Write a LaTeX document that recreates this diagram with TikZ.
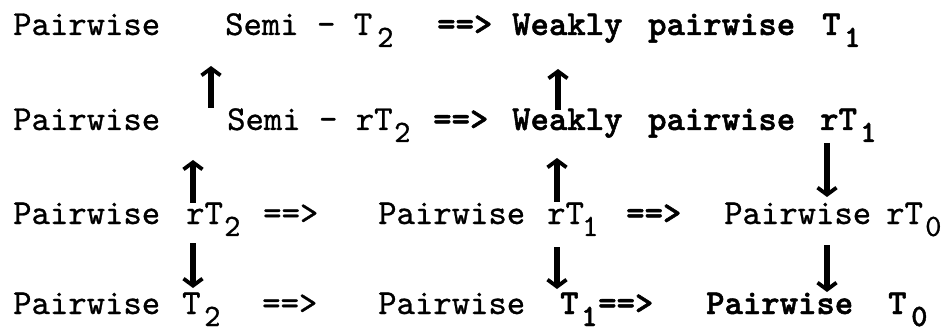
\documentclass[tikz,border=0pt]{standalone}
\usepackage{fontspec}
\usetikzlibrary{arrows.meta}
\newfontfamily\twr{lmmono10-regular.otf}[FakeBold=0.8]
\newfontfamily\twb{lmmonolt10-bold.otf}[FakeBold=1.4]
\begin{document}
\begin{tikzpicture}[x=1pt,y=-1pt,
  txt/.style={anchor=base west, inner sep=0pt, font=\fontsize{35}{40}\selectfont\twr},
  btxt/.style={anchor=base west, inner sep=0pt, font=\fontsize{35}{40}\selectfont\twb},
  sub/.style={anchor=base west, inner sep=0pt, font=\fontsize{31}{31}\selectfont\twr},
  bsub/.style={anchor=base west, inner sep=0pt, font=\fontsize{31}{31}\selectfont\twb},
  varrow/.style={line width=5.5pt, -{Straight Barb[length=7pt,width=19pt,line width=3.8pt]}}]
\useasboundingbox (0,0) rectangle (951,334);
% Row 1
\node[txt] (r1a) at (13,35) {Pairwise};
\node[txt] (r1b) at (225,35) {Semi - T};
\node[sub] (r1bs) at (377,47) {2};
\node[btxt] (r1c) at (437,35) {==>};
\node[btxt] (r1d) at (512,35) {Weakly};
\node[btxt] (r1e) at (648,35) {pairwise};
\node[btxt] (r1f) at (822,35) {T};
\node[bsub] (r1fs) at (844,47) {1};
% Row 2
\node[txt] (r2a) at (13,130) {Pairwise};
\node[txt] (r2b) at (227,130) {Semi - rT};
\node[sub] (r2bs) at (394,142) {2};
\node[btxt] (r2c) at (433,130) {==>};
\node[btxt] (r2d) at (512,130) {Weakly};
\node[btxt] (r2e) at (648,130) {pairwise};
\node[btxt] (r2f) at (820,130) {rT};
\node[bsub] (r2fs) at (860,142) {1};
% Row 3
\node[txt] (r3a) at (13,224) {Pairwise};
\node[txt] (r3b) at (186,224) {rT};
\node[sub] (r3bs) at (224,236) {2};
\node[txt] (r3c) at (263,224) {==>};
\node[txt] (r3d) at (378,224) {Pairwise};
\node[txt] (r3e) at (547,224) {rT};
\node[sub] (r3es) at (582,236) {1};
\node[btxt] (r3f) at (626,224) {==>};
\node[txt] (r3g) at (724,224) {Pairwise};
\node[txt] (r3h) at (886,224) {rT};
\node[sub] (r3hs) at (925,236) {0};
% Row 4
\node[txt] (r4a) at (13,314) {Pairwise};
\node[txt] (r4b) at (182,314) {T};
\node[sub] (r4bs) at (204,326) {2};
\node[txt] (r4c) at (262,314) {==>};
\node[txt] (r4d) at (378,314) {Pairwise};
\node[btxt] (r4e) at (560,314) {T};
\node[bsub] (r4es) at (581,326) {1};
\node[btxt] (r4f) at (598,314) {==>};
\node[btxt] (r4g) at (706,314) {Pairwise};
\node[btxt] (r4h) at (888,314) {T};
\node[bsub] (r4hs) at (911,326) {0};
% arrow end points
\coordinate (a1s) at (211,108); \coordinate (a1e) at (211,66);
\coordinate (a2s) at (558,110); \coordinate (a2e) at (558,69);
\coordinate (a3s) at (827,143); \coordinate (a3e) at (827,197);
\coordinate (a4s) at (193,203); \coordinate (a4e) at (193,160);
\coordinate (a5s) at (193,243); \coordinate (a5e) at (193,288);
\coordinate (a6s) at (557,202); \coordinate (a6e) at (557,158);
\coordinate (a7s) at (557,247); \coordinate (a7e) at (557,289);
\coordinate (a8s) at (827,245); \coordinate (a8e) at (827,292);
\foreach \a in {1,...,8} \draw[varrow] (a\a s) -- (a\a e);
\end{tikzpicture}
\end{document}
